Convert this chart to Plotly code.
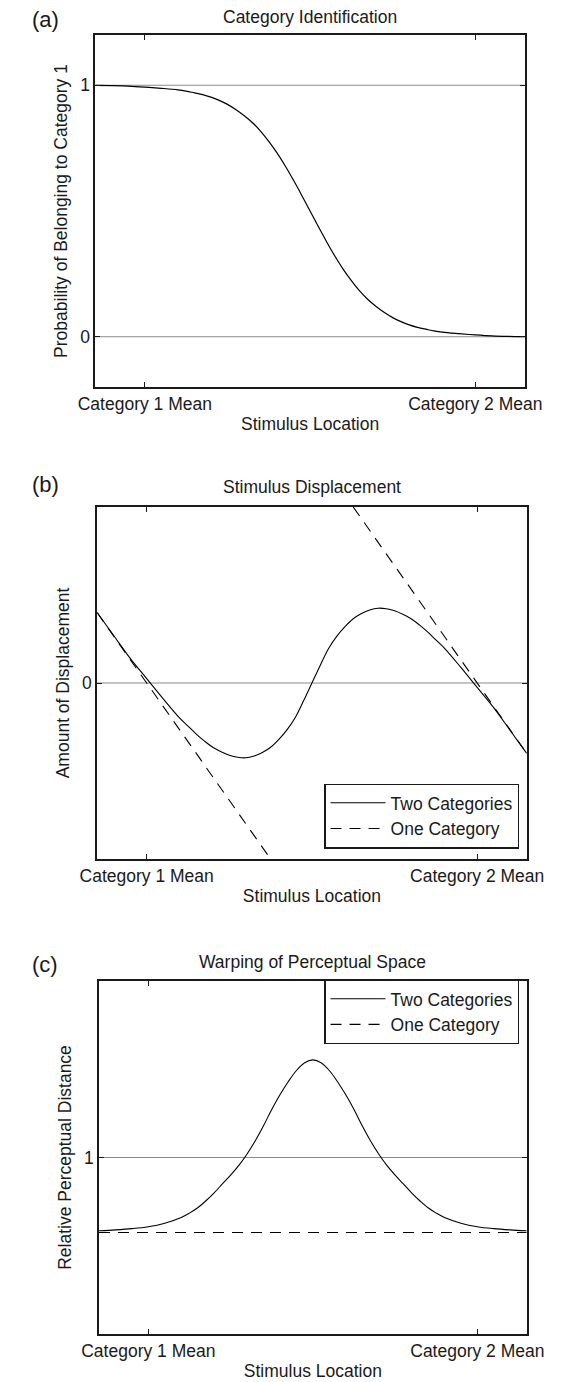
import plotly.graph_objects as go

W, H = 562, 1382
OFF = 8  # the page body margin shifts the figure by this many pixels

# stimulus positions (Category 1 mean = 0, Category 2 mean = 1)
stim_x = [-0.15, -0.1, -0.05, 0.0, 0.05,
          0.1, 0.125, 0.15, 0.175, 0.2, 0.225, 0.25, 0.275, 0.3, 0.325, 0.35, 0.375, 0.4, 0.425, 0.45, 0.475,
          0.5, 0.525, 0.55, 0.575, 0.6, 0.625, 0.65, 0.675, 0.7, 0.725, 0.75, 0.775, 0.8, 0.825, 0.85, 0.875,
          0.9, 0.95, 1.0, 1.05, 1.1, 1.15]

# (a) probability of belonging to category 1
ident_p = [1.0, 0.999, 0.997, 0.993, 0.988,
           0.982, 0.977, 0.97, 0.963, 0.953, 0.94, 0.924, 0.904, 0.88, 0.852, 0.818, 0.777, 0.731, 0.679, 0.622, 0.562,
           0.5, 0.438, 0.378, 0.321, 0.269, 0.223, 0.182, 0.148, 0.12, 0.096, 0.076, 0.06, 0.047, 0.037, 0.03, 0.023,
           0.018, 0.012, 0.007, 0.003, 0.001, 0.0]

# (b) amount of displacement
disp_two = [0.40, 0.27, 0.14, 0.025, -0.09,
            -0.20, -0.245, -0.29, -0.33, -0.365, -0.39, -0.41, -0.422, -0.425, -0.415, -0.395, -0.365, -0.32, -0.265,
            -0.195, -0.10,
            0.0, 0.10, 0.195, 0.265, 0.32, 0.365, 0.395, 0.415, 0.425, 0.422, 0.41, 0.39, 0.365, 0.33, 0.29, 0.245,
            0.20, 0.09, -0.025, -0.14, -0.27, -0.40]
disp_one_x = [-0.15, 0.375, None, 0.625, 1.15]
disp_one_y = [0.40, -1.0, None, 1.0, -0.40]

# (c) relative perceptual distance
warp_two = [0.585, 0.59, 0.597, 0.608, 0.628,
            0.66, 0.685, 0.715, 0.755, 0.80, 0.85, 0.90, 0.955, 1.02, 1.095, 1.18, 1.272, 1.355, 1.429, 1.493, 1.537,
            1.553, 1.537, 1.493, 1.429, 1.355, 1.272, 1.18, 1.095, 1.02, 0.955, 0.90, 0.85, 0.80, 0.755, 0.715, 0.685,
            0.66, 0.628, 0.608, 0.597, 0.59, 0.585]
warp_one_x = [-0.15, 1.15]
warp_one_y = [0.575, 0.575]

x_ticks = [0, 1]
x_labels = ["Category 1 Mean", "Category 2 Mean"]

FONT = "Liberation Sans, Arial, sans-serif"
INK = "#1a1a1a"
FS = 17.5


def px_x(v):
    return (v - OFF) / W


def px_y(v):
    return 1 - (v - OFF) / H


fig = go.Figure()

fig.add_trace(go.Scatter(x=stim_x, y=ident_p, mode="lines", line=dict(color="black", width=1.2, shape="spline"),
                         xaxis="x", yaxis="y", showlegend=False))

fig.add_trace(go.Scatter(x=stim_x, y=disp_two, mode="lines", name="Two Categories",
                         line=dict(color="black", width=1.1, shape="spline"),
                         xaxis="x2", yaxis="y2", legend="legend"))
fig.add_trace(go.Scatter(x=disp_one_x, y=disp_one_y, mode="lines", name="One Category",
                         line=dict(color="black", width=1.1, dash="11px,8px"),
                         xaxis="x2", yaxis="y2", legend="legend"))

fig.add_trace(go.Scatter(x=stim_x, y=warp_two, mode="lines", name="Two Categories",
                         line=dict(color="black", width=1.1, shape="spline"),
                         xaxis="x3", yaxis="y3", legend="legend2"))
fig.add_trace(go.Scatter(x=warp_one_x, y=warp_one_y, mode="lines", name="One Category",
                         line=dict(color="black", width=1.1, dash="11px,8px"),
                         xaxis="x3", yaxis="y3", legend="legend2"))

# page pixel boxes of the three frames
panels = [
    ((82, 541), (35, 387), [-0.2, 1.2], [0, 1], "Probability of Belonging to Category 1"),
    ((84, 543), (507, 859), [-1, 1], [0], "Amount of Displacement"),
    ((86, 543), (981, 1334), [0, 2], [1], "Relative Perceptual Distance"),
]

axis_common = dict(showline=True, linecolor=INK, linewidth=1.6, mirror="ticks", ticks="inside",
                   ticklen=5, tickcolor=INK, showgrid=False, zeroline=False,
                   tickfont=dict(family=FONT, size=FS, color=INK))

layout_axes = {}
for i, ((xl, xr), (yt, yb), yrange, yticks, ytitle) in enumerate(panels, start=1):
    sfx = "" if i == 1 else str(i)
    layout_axes["xaxis" + sfx] = dict(axis_common, domain=[px_x(xl), px_x(xr)], range=[-0.15, 1.15],
                                      tickvals=x_ticks, ticktext=x_labels, anchor="y" + sfx,
                                      ticklabelstandoff=0,
                                      title=dict(text="Stimulus Location", standoff=5,
                                                 font=dict(family=FONT, size=FS, color=INK)))
    layout_axes["yaxis" + sfx] = dict(axis_common, domain=[px_y(yb), px_y(yt)], range=yrange,
                                      tickvals=yticks, anchor="x" + sfx,
                                      title=dict(text=ytitle, standoff=8,
                                                 font=dict(family=FONT, size=FS, color=INK)))

fig.update_layout(**layout_axes)

# grey reference lines
ref_lines = [("x", "y", 1), ("x", "y", 0), ("x2", "y2", 0), ("x3", "y3", 1)]
for xa, ya, val in ref_lines:
    fig.add_shape(type="line", xref=xa + " domain", x0=0, x1=1, yref=ya, y0=val, y1=val,
                  line=dict(color="#8a8a8a", width=1.1), layer="below")

titles = ["Category Identification", "Stimulus Displacement", "Warping of Perceptual Space"]
title_y = [17, 487, 962]
label_y = [19, 485, 964]
for (xs, ys, *_), t, ty, ly, lab in zip(panels, titles, title_y, label_y, ["(a)", "(b)", "(c)"]):
    fig.add_annotation(text=t, x=px_x((xs[0] + xs[1]) / 2), y=px_y(ty), xref="paper", yref="paper",
                       showarrow=False, xanchor="center", yanchor="middle",
                       font=dict(family=FONT, size=FS, color=INK))
    fig.add_annotation(text=lab, x=px_x(12), y=px_y(ly), xref="paper", yref="paper",
                       showarrow=False, xanchor="left", yanchor="middle",
                       font=dict(family=FONT, size=22, color=INK))

legend_style = dict(bgcolor="white", bordercolor=INK, borderwidth=1.3,
                    font=dict(family=FONT, size=FS, color=INK), itemwidth=55,
                    tracegroupgap=0, xanchor="right", yanchor="middle", xref="paper", yref="paper")

fig.update_layout(
    width=W, height=H,
    margin=dict(l=0, r=0, t=0, b=0),
    paper_bgcolor="white", plot_bgcolor="white",
    legend=dict(legend_style, x=px_x(535), y=px_y(816)),
    legend2=dict(legend_style, x=px_x(535), y=px_y(1012)),
)

fig.write_html("out.html")
